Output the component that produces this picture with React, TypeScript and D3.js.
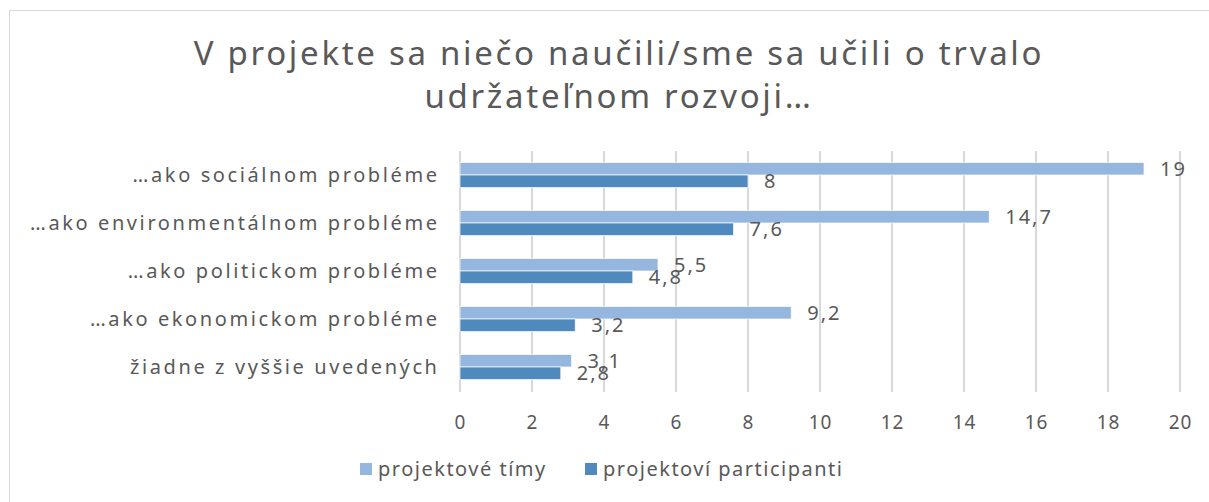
import React from "react";
import * as d3 from "d3";

const categories = [
  "…ako sociálnom probléme",
  "…ako environmentálnom probléme",
  "…ako politickom probléme",
  "…ako ekonomickom probléme",
  "žiadne z vyššie uvedených",
];
const seriesNames = ["projektové tímy", "projektoví participanti"];
const teams = [19, 14.7, 5.5, 9.2, 3.1];
const participants = [8, 7.6, 4.8, 3.2, 2.8];
const xTicks = [0, 2, 4, 6, 8, 10, 12, 14, 16, 18, 20];
const titleLines = ["V projekte sa niečo naučili/sme sa učili o trvalo", "udržateľnom rozvoji…"];

const colors = ["#95B7DF", "#4F89BD"];
const FONT = "'Noto Sans', sans-serif";
const TXT = "#595959";

export default function App() {
  const x = d3.scaleLinear().domain([0, 20]).range([460, 1180]);
  const y = d3.scaleBand<string>().domain(categories).range([151, 391]).padding(0);
  const groupH = 25;
  const inner = d3.scaleBand<number>().domain([0, 1]).range([0, groupH]).padding(0);
  const series = [teams, participants];
  const fmt = (v: number) => String(v).replace(".", ",");

  return (
    <svg
      width={1209}
      height={502}
      style={{ position: "absolute", left: 0, top: 0, background: "#fff" }}
      fontFamily={FONT}
    >
      <rect x={9.5} y={10.5} width={1220} height={500} fill="#fff" stroke="#d9d9d9" strokeWidth={1} />
      {titleLines.map((t, i) => (
        <text key={i} x={619} y={65 + i * 43} textAnchor="middle" fontSize={33} letterSpacing={2.7} fill={TXT}>
          {t}
        </text>
      ))}
      {xTicks.map((t) => (
        <g key={t}>
          <line x1={x(t)} x2={x(t)} y1={151} y2={392} stroke="#d9d9d9" strokeWidth={2} />
          <text x={x(t) + 0.5} y={429} textAnchor="middle" fontSize={19} letterSpacing={1} fill={TXT}>
            {t}
          </text>
        </g>
      ))}
      {categories.map((c, ci) => {
        const y0 = (y(c) as number) + (y.bandwidth() - groupH) / 2;
        return (
          <g key={c}>
            <text
              x={437 + 2.6}
              y={(y(c) as number) + y.bandwidth() / 2 + 7}
              textAnchor="end"
              fontSize={20}
              letterSpacing={2.6}
              fill={TXT}
            >
              {c}
            </text>
            {series.map((s, si) => {
              const by = y0 + (inner(si) as number);
              return (
                <g key={si}>
                  <rect
                    x={x(0)}
                    y={by}
                    width={x(s[ci]) - x(0)}
                    height={inner.bandwidth()}
                    fill={colors[si]}
                    stroke="#fff"
                    strokeWidth={0.7}
                  />
                  <text
                    x={x(s[ci]) + 16}
                    y={by + inner.bandwidth() / 2 + 7}
                    fontSize={20}
                    letterSpacing={2}
                    fill={TXT}
                  >
                    {fmt(s[ci])}
                  </text>
                </g>
              );
            })}
          </g>
        );
      })}
      {seriesNames.map((n, i) => {
        const lx = [360, 585][i];
        return (
          <g key={n}>
            <rect x={lx} y={463} width={12} height={12} fill={colors[i]} />
            <text x={lx + 18} y={476} fontSize={20} letterSpacing={1.5} fill={TXT}>
              {n}
            </text>
          </g>
        );
      })}
    </svg>
  );
}
